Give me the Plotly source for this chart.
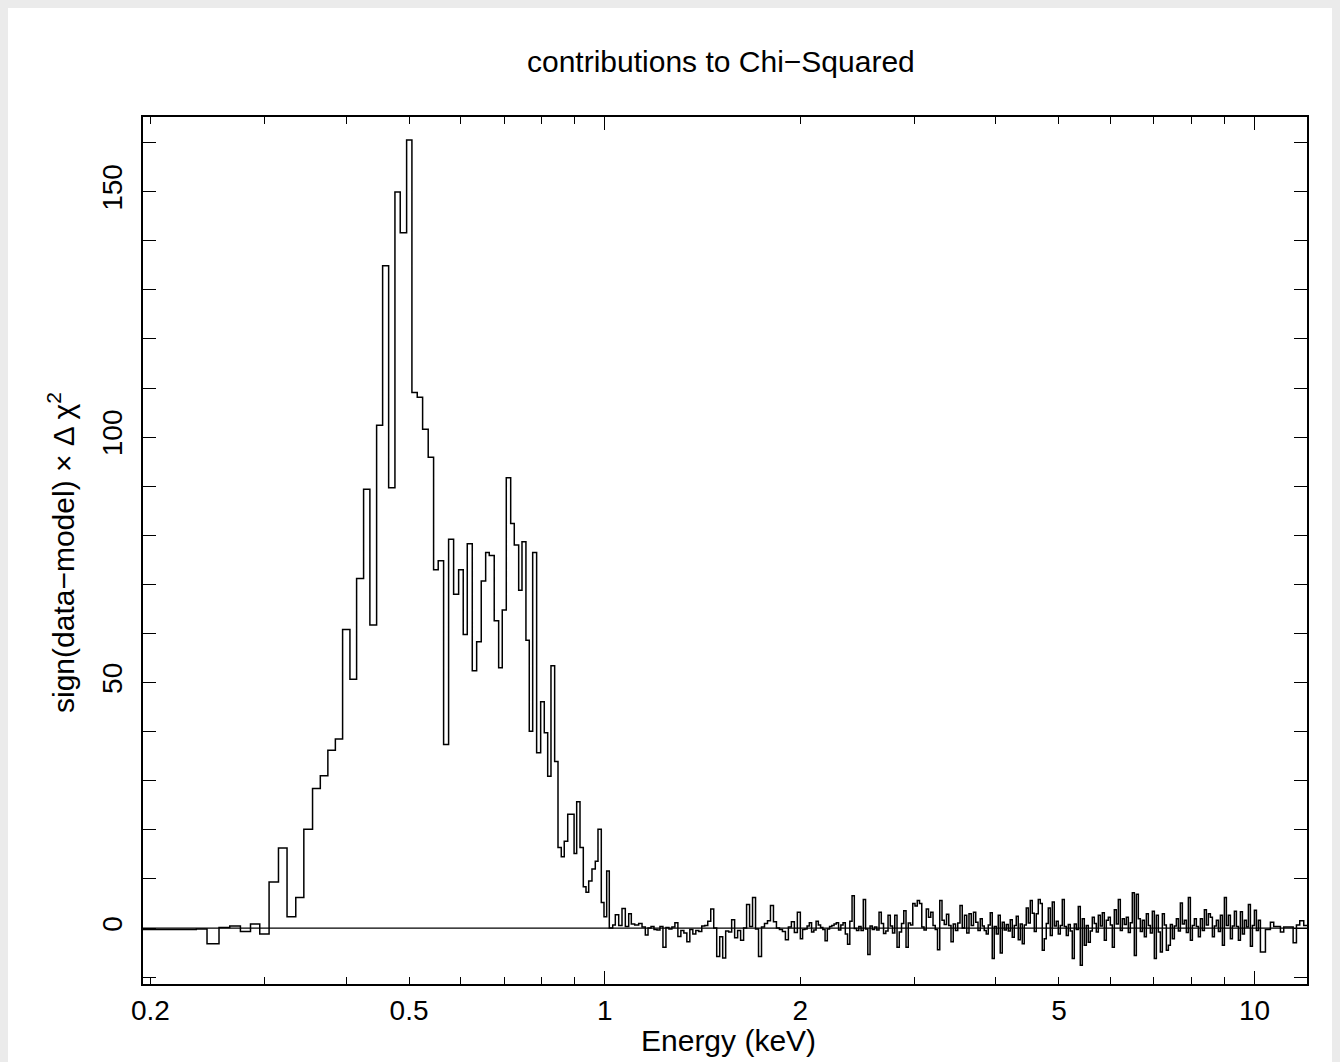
import numpy as np
import plotly.graph_objects as go

# ---------------- data ----------------
# low-energy bins: explicit bin edges (keV) and chi contributions
low_edges = [0.19, 0.2353, 0.2444, 0.2550, 0.2649, 0.2751, 0.2851, 0.2946, 0.3045, 0.3148,
             0.3245, 0.3347, 0.3444, 0.3552, 0.3651, 0.3750, 0.3851, 0.3951, 0.4055, 0.4152,
             0.4256, 0.4352, 0.4457, 0.4553, 0.4651, 0.4756, 0.4846, 0.4957, 0.5051, 0.5147,
             0.5246, 0.5351, 0.5454, 0.5544, 0.5651, 0.5752, 0.5855, 0.5960, 0.6058, 0.6145,
             0.6255, 0.6353, 0.6457, 0.6559, 0.6643, 0.6761, 0.6868, 0.6956, 0.7056, 0.7167,
             0.7259, 0.7373, 0.7460, 0.7565, 0.7655, 0.7748, 0.7857, 0.7970, 0.8073, 0.8171,
             0.8267, 0.8375, 0.8475, 0.8574, 0.8665, 0.8772, 0.8972, 0.9055, 0.9162, 0.9270,
             0.9359, 0.9449, 0.9559, 0.9672, 0.9765, 0.9880, 0.9975, 1.0071, 1.0164, 1.0288,
             1.0383, 1.0509, 1.0632, 1.0758, 1.0888, 1.0989, 1.1121, 1.1279, 1.1414, 1.1548,
             1.1659]
low_vals = [-0.3, -0.2, -3.2, 0.1, 0.4, -0.7, 0.8, -1.2, 9.4, 16.3,
            2.3, 6.2, 20.1, 28.4, 31.0, 36.2, 38.5, 60.8, 50.7, 71.2,
            89.4, 61.7, 102.4, 134.9, 89.7, 149.9, 141.6, 160.5, 109.1, 108.1,
            101.6, 95.9, 73.0, 74.8, 37.4, 79.2, 68.0, 73.0, 59.8, 78.3,
            52.4, 58.3, 70.7, 76.5, 75.9, 62.6, 53.0, 64.8, 91.7, 82.4,
            78.0, 68.8, 78.7, 58.6, 40.1, 76.5, 35.7, 46.1, 39.8, 30.9,
            53.4, 33.9, 16.4, 14.5, 17.7, 23.2, 15.2, 25.7, 16.4, 8.4,
            7.3, 9.6, 12.0, 13.6, 20.1, 5.2, 2.3, 11.6, 0.0, 0.6,
            2.7, 0.5, 4.0, 0.3, 2.9, 0.8, 0.6, 0.9, 0.2, -1.4]

# channel-grid segments: (start keV, end keV) with per-bin values
segB_range = (1.1659, 2.0)
segB_vals = [0.0, 0.3, -0.3, -0.4, 0.3, -3.9, 0.1, -0.2, 0.2, 1.1,
             -1.7, -0.5, -1.0, -2.8, -0.3, -1.2, -0.5, -0.7, 0.4, 0.5,
             1.4, 3.9, 0.0, -5.8, -1.8, -6.1, -0.6, -0.8, 1.7, -2.0,
             -0.5, -2.5, 0.0, 4.8, 0.3, 6.2, -0.2, -5.8, 0.2, 0.9,
             1.5, 4.6, 1.3, 0.0, -0.3, -0.7, -2.4, 0.2, 1.3, -0.9,
             3.2]
segC1_range = (2.0, 3.783)
segC1_vals = [-2.2, -0.3, -0.2, 0.4, 1.1, -0.8, -0.4, 1.4, 0.6, 0.1,
              -0.3, -2.6, -0.2, 0.3, 0.5, 0.8, 1.1, -0.4, 0.6, 1.1,
              -1.2, -3.3, 1.4, 6.6, -0.1, -0.5, 0.3, -0.5, 5.8, -0.2,
              -5.4, 0.4, -0.3, 0.2, -0.4, 3.2, 0.9, -1.1, -0.6, 2.6,
              0.4, -1.0, 2.6, -3.9, -0.8, 0.9, 3.5, -3.9, 1.0, 0.6,
              5.0, 4.5, 5.6, 5.0, 0.2, -0.4, 3.9, 2.2, 3.2, 0.5,
              -0.3, -4.4, 5.6, 1.6, 0.7, 2.8, 0.5, -2.8, 0.8, -0.5,
              1.0, 4.6, 0.0, 2.6, -1.0, 2.9, 0.5, 3.2, 1.2, -0.5]
segC2_range = (3.783, 10.208)
segC2_vals = [1.9, 0.4, -0.5, -1.2, 0.6, 3.1, -6.2, 0.3, -1.2, 2.6,
              -5.1, 1.2, -0.4, 0.7, -0.6, 1.7, -1.9, 0.5, 2.4, -2.4,
              0.8, -3.2, 0.6, 4.1, 1.0, 5.6, 3.0, -0.7, 2.9, 5.8,
              5.0, -4.5, -2.2, 0.9, 4.1, -1.5, 5.3, 0.4, 1.4, -1.2,
              0.5, 5.8, 0.3, -1.5, 0.7, -0.6, -6.2, 0.8, -0.3, 4.4,
              -7.6, 1.9, -3.5, 0.5, -2.9, -0.6, 2.2, 0.9, -0.8, 2.6,
              0.4, 3.1, -2.5, 1.6, 2.2, 0.6, -3.9, 3.7, 0.8, 5.8,
              -0.5, 1.9, 0.7, 2.2, -0.9, 1.1, 7.2, -5.6, 6.9, 1.9,
              -0.7, 1.6, -1.8, 2.9, 0.5, -1.0, 3.4, -6.2, 2.6, -0.8,
              -4.9, 2.9, 0.6, -4.5, -3.5, 0.7, -2.2, 0.4, 1.9, -0.6,
              5.1, 0.8, 1.6, -0.9, 6.2, -2.5, 0.5, 1.9, 0.3, -1.8,
              1.9, -0.5, 3.7, 0.6, 2.9, 2.2, -1.8, 0.4, 1.6, -0.7,
              2.6, -3.5, 6.2, 0.5, 2.6, -2.2, 0.4, 3.4, 0.3, -2.5,
              3.3, -1.2, 1.6, 0.2, 4.8, -3.7, 0.5, 3.6, -0.5, 1.6]
# high-energy wide bins
tail_edges = [10.208, 10.391, 10.576, 10.701, 10.958, 11.087, 11.463, 11.598, 11.734, 11.902, 12.19]
tail_vals = [-4.9, -0.3, 1.2, 0.3, -0.8, 0.2, -3.0, 0.6, 1.5, 0.5]

x_major = [0.2, 0.5, 1, 2, 5, 10]
x_major_text = ["0.2", "0.5", "1", "2", "5", "10"]
x_minor = [0.3, 0.4, 0.6, 0.7, 0.8, 0.9, 3, 4, 6, 7, 8, 9]
x_decades = [1, 10]
y_major = [0, 50, 100, 150]
y_minor = [-10, 10, 20, 30, 40, 60, 70, 80, 90, 110, 120, 130, 140, 160]

# ---------------- assemble bins ----------------
edges = list(low_edges)
vals = list(low_vals)
for (e0, e1), v in [(segB_range, segB_vals), (segC1_range, segC1_vals), (segC2_range, segC2_vals)]:
    grid = np.geomspace(e0, e1, len(v) + 1)
    edges += list(grid[1:])
    vals += list(v)
edges += tail_edges[1:]
vals += tail_vals

xs = edges
ys = vals + [vals[-1]]

# figure is placed at an 8px page offset by the browser
W, H = 1324, 1062
L, R, T, B = 135, 25, 109, 86
pw, ph = W - L - R, H - T - B

def px(x):
    return (x - L) / pw

def py(y):
    return (H - B - y) / ph

FONT = "Liberation Sans, Arial, Helvetica, sans-serif"

fig = go.Figure()
fig.add_trace(go.Scatter(x=xs, y=ys, mode="lines", line=dict(color="black", width=1.5, shape="hv"),
                         hoverinfo="skip", showlegend=False))
# same data on overlay axis (carries the decade ticks)
fig.add_trace(go.Scatter(x=xs, y=ys, mode="lines", line=dict(color="rgba(0,0,0,0)", width=0, shape="hv"),
                         xaxis="x2", hoverinfo="skip", showlegend=False))

xr = [np.log10(0.1948), np.log10(12.04)]
yr = [-11.4, 165.2]

fig.update_layout(
    width=W, height=H,
    margin=dict(l=L, r=R, t=T, b=B, pad=0),
    paper_bgcolor="white",
    plot_bgcolor="white",
    font=dict(family=FONT, color="black", size=28),
    xaxis=dict(type="log", range=xr, showgrid=False, zeroline=False,
               showline=True, linecolor="black", linewidth=1.5, mirror="allticks",
               ticks="inside", ticklen=7, tickwidth=1, tickcolor="black",
               tickmode="array", tickvals=x_major, ticktext=x_major_text,
               tickfont=dict(size=28), ticklabelstandoff=1,
               minor=dict(ticks="inside", ticklen=7, tickwidth=1, tickcolor="black",
                          tickvals=x_minor, showgrid=False)),
    xaxis2=dict(type="log", range=xr, overlaying="x", anchor="y", side="bottom",
                showgrid=False, zeroline=False, showline=False, mirror="allticks",
                ticks="inside", ticklen=13, tickwidth=1, tickcolor="black",
                tickmode="array", tickvals=x_decades, showticklabels=False),
    yaxis=dict(range=yr, showgrid=False, zeroline=False,
               showline=True, linecolor="black", linewidth=1.5, mirror="allticks",
               ticks="inside", ticklen=13, tickwidth=1, tickcolor="black",
               tickmode="array", tickvals=y_major, tickangle=-90,
               tickfont=dict(size=28), ticklabelstandoff=8,
               minor=dict(ticks="inside", ticklen=7, tickwidth=1, tickcolor="black",
                          tickvals=y_minor, showgrid=False)),
    shapes=[
        dict(type="line", xref="paper", yref="y", x0=0, x1=1, y0=0, y1=0,
             line=dict(color="black", width=1.3)),
    ],
    annotations=[
        dict(text="contributions to Chi−Squared", xref="paper", yref="paper",
             x=px(713), y=py(54), xanchor="center", yanchor="middle", showarrow=False,
             font=dict(size=30)),
        dict(text="Energy (keV)", xref="paper", yref="paper",
             x=px(720), y=py(1032), xanchor="center", yanchor="middle", showarrow=False,
             font=dict(size=30)),
        dict(text="sign(data−model) × Δ χ<sup>2</sup>", xref="paper", yref="paper",
             x=px(53), y=py(545), xanchor="center", yanchor="middle", showarrow=False,
             textangle=-90, font=dict(size=30)),
    ],
)

fig.write_html("out.html", post_script="document.body.style.backgroundColor='#ebebeb';")
